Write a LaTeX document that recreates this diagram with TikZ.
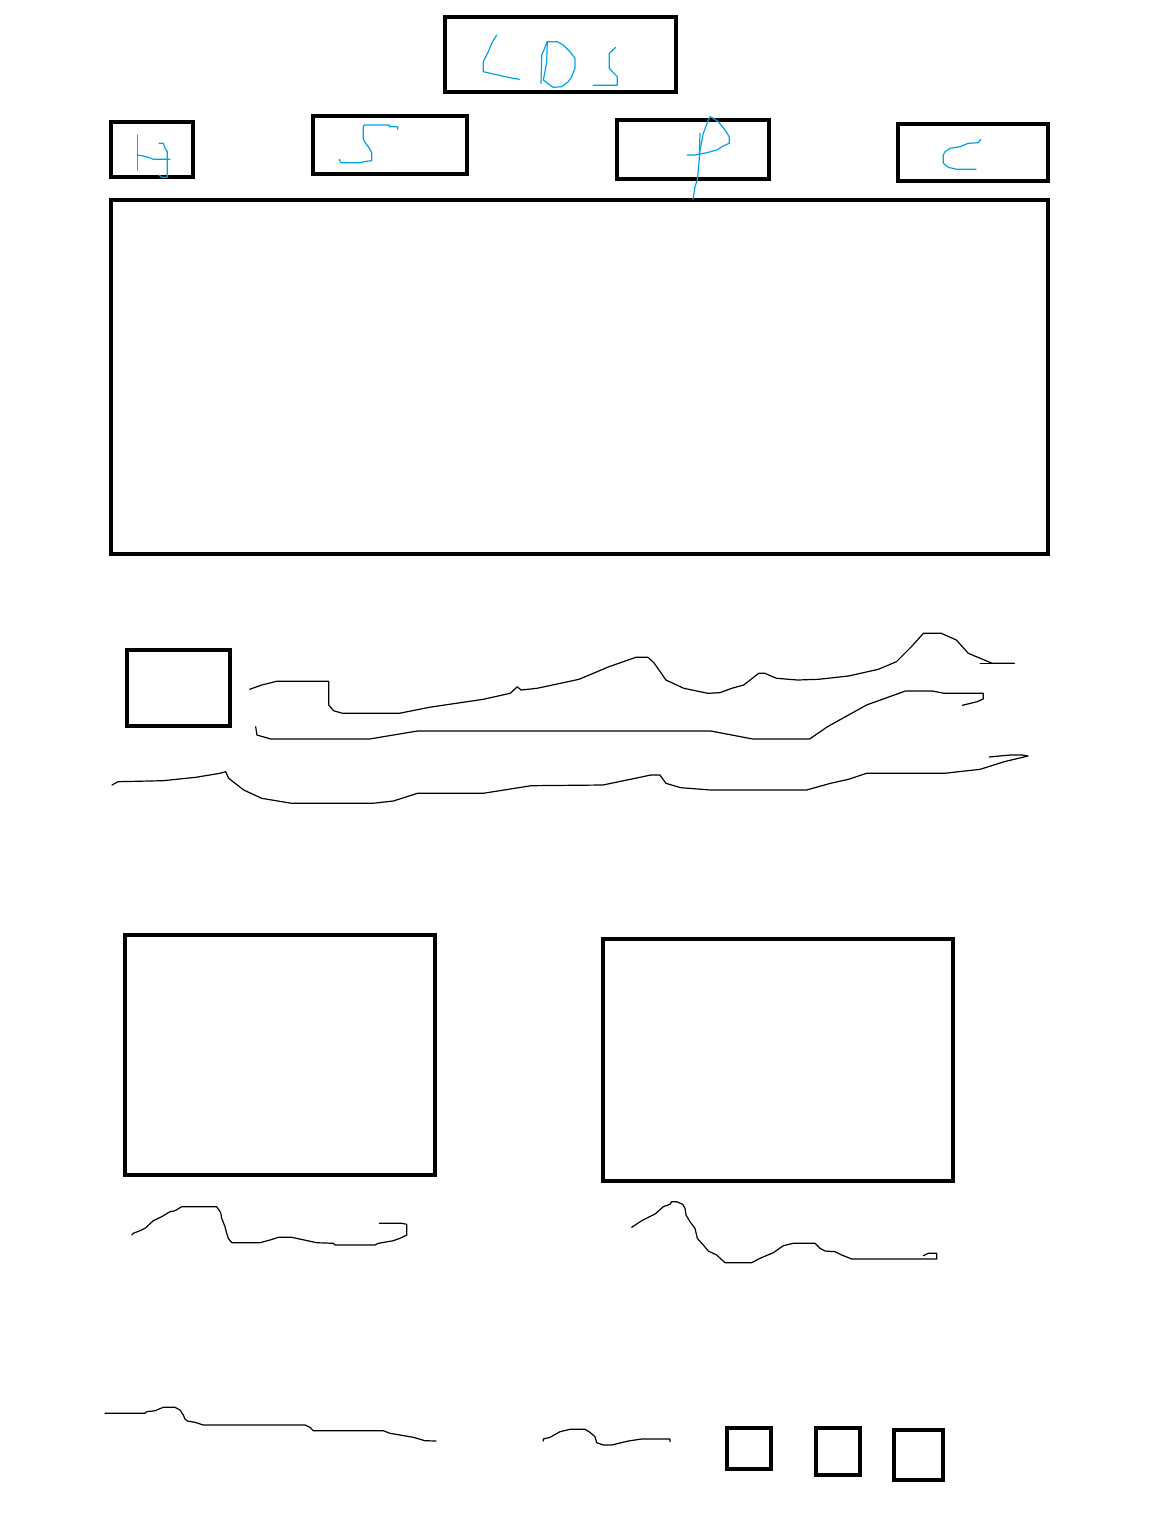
\documentclass[tikz,border=0pt]{standalone}
\usepackage{tikz}
\definecolor{paintblue}{RGB}{0,162,232}
\tikzset{frame/.style = {shape = rectangle, draw, line width = 4pt, inner sep = 0pt}}
\tikzset{pen/.style = {line width = 1.2pt, line join = round, line cap = round}}
\tikzset{ink/.style = {pen, draw = paintblue}}

\begin{document}
\begin{tikzpicture}[x = 1pt, y = -1pt]
			\useasboundingbox (0, 0) rectangle (1152, 1526);

			\node[frame, minimum width = 231pt, minimum height = 75pt] (lds) at (560.5, 54.5) {};
			\node[frame, minimum width = 82pt, minimum height = 55pt] (hbox) at (152, 149.5) {};
			\node[frame, minimum width = 154pt, minimum height = 58pt] (sbox) at (390.3, 144.7) {};
			\node[frame, minimum width = 152pt, minimum height = 59pt] (pbox) at (693.3, 149.5) {};
			\node[frame, minimum width = 150pt, minimum height = 57pt] (cbox) at (973, 152) {};
			\node[frame, minimum width = 937pt, minimum height = 354pt] (main) at (579.5, 377) {};
			\node[frame, minimum width = 103pt, minimum height = 76pt] (thumb) at (178, 688) {};
			\node[frame, minimum width = 310pt, minimum height = 240pt] (leftpanel) at (279.5, 1054.5) {};
			\node[frame, minimum width = 350pt, minimum height = 242pt] (rightpanel) at (777.5, 1059.5) {};
			\node[frame, minimum width = 44pt, minimum height = 41pt] (sqa) at (748.5, 1448.5) {};
			\node[frame, minimum width = 44pt, minimum height = 47pt] (sqb) at (837.5, 1451.5) {};
			\node[frame, minimum width = 49pt, minimum height = 50pt] (sqc) at (918, 1454.5) {};

			% blue letters
			\draw[ink] (496.7,35) -- (491.7,43.3) -- (488.3,51.7) -- (483.3,61.7) -- (483.3,71.7) -- (493.3,74) -- (510,77.7) -- (519.3,79.3);
			\draw[ink] (541,83.3) -- (541.7,55) -- (546,45) -- (547.3,41.7);
			\draw[ink] (547.3,41.7) -- (557.3,41.7) -- (563.3,45) -- (570,51.7) -- (575,58.3) -- (575,68.3) -- (571.7,76.7) -- (568.3,81.7) -- (561.7,86.7) -- (553.3,87.3) -- (546.7,82.7) -- (543.3,80) -- (545,71.7) -- (546.7,61.7) -- cycle;
			\draw[ink] (615.7,47.3) -- (611,51.7) -- (609.3,53.3) -- (609.3,68.3) -- (613.3,72.7) -- (617.3,76.7) -- (617.3,85.3) -- (593.3,85.3);
			\draw[ink] (137.3,135) -- (137.3,170);
			\draw[ink] (137.3,155) -- (143.3,156) -- (148.3,157.3) -- (153.3,159.3) -- (170,159.3);
			\draw[ink] (159,143.3) -- (163.3,143.3) -- (165,148.3) -- (167.3,151.7) -- (167.3,177.3) -- (161.7,177.3) -- (159,175);
			\draw[ink] (397.7,129.3) -- (397.7,126.7) -- (389.3,126.7) -- (389.3,125) -- (364.3,125) -- (363.3,126.7) -- (363.3,139.3) -- (365.7,143.3) -- (368.3,146.7) -- (370.7,150.7) -- (371.7,153.3) -- (371.7,160.7) -- (363.3,161.7) -- (361.7,162.7) -- (341,162.7) -- (339.3,159.3);
			\draw[ink] (693,199.3) -- (695,186.7) -- (697.3,180) -- (698.3,170) -- (700,150) -- (703.3,133.3) -- (707.7,121.7) -- (710,116.7) -- (713.3,118.3) -- (718.3,121.7) -- (725,130) -- (729.3,136.7) -- (729.3,143.3) -- (723.3,146) -- (716.7,150) -- (706.7,152.7) -- (700,154) -- (695,155) -- (687.3,155);
			\draw[ink] (700,133.3) -- (699.3,153.3);
			\draw[ink] (981,139.3) -- (978.3,142.7) -- (968.3,143.3) -- (960,146.7) -- (950,148.3) -- (945,151.7) -- (943.3,155) -- (943.3,163.3) -- (948.3,167.3) -- (956.7,169.3) -- (976,169.3);

			% black squiggles
			\draw[pen] (249.7,689.3) -- (261.7,685) -- (276.6,681.3) -- (328.7,681.3) -- (328.7,705) -- (333.5,710.7) -- (342.5,713.3) -- (399.4,713.3) -- (429.3,707.3) -- (483.2,699.3) -- (510.2,693.3) -- (517.4,686.7) -- (521,690) -- (537.1,688.3) -- (579,679.3) -- (609,666.7) -- (635.9,657.3) -- (647.9,657.3) -- (653.9,662.7) -- (665.9,680) -- (683.8,688.3) -- (707.8,693.3) -- (719.8,692.7) -- (731.7,688.3) -- (743.7,685) -- (758.7,673.3) -- (764.7,673.3) -- (776.6,678.3) -- (797.6,680) -- (818.6,679.3) -- (848.5,676) -- (878.4,669.3) -- (896.4,661.7) -- (911.4,646.7) -- (923.4,633.3) -- (941.3,633.3) -- (956.3,640) -- (968.3,653.3) -- (980.2,658.3) -- (992.2,663.3) -- (1014.4,663.3);
			\draw[pen] (980.2,663.3) -- (992.2,663.3);
			\draw[pen] (255.7,726.7) -- (256.9,735) -- (270.7,739) -- (369.5,739) -- (417.4,731) -- (710.8,731) -- (752.7,739) -- (809.6,739) -- (827.5,726.7) -- (866.5,705) -- (905.4,691) -- (932.3,691) -- (944.3,693.3) -- (983.2,693.3) -- (983.2,699) -- (977.2,701.7) -- (962.3,705.3);
			\draw[pen] (112,785) -- (118,781.7) -- (162.9,780.7) -- (195.8,777.3) -- (219.8,773.3) -- (225.7,771.7) -- (228.7,778.3) -- (243.7,790) -- (261.7,798.3) -- (291.6,803.3) -- (372.5,803.3) -- (393.4,801) -- (417.4,793.3) -- (483.2,793.3) -- (531.1,785.7) -- (603,785) -- (650.9,775) -- (659.9,775) -- (665.9,783.3) -- (680.8,787.7) -- (710.8,790) -- (806.6,790) -- (830.5,783.3) -- (848.5,779.3) -- (866.5,773.3) -- (944.3,773.3) -- (980.2,769.3) -- (1004.2,761.7) -- (1028.1,756) -- (1022.2,755) -- (1010.2,755) -- (989.2,757);
			\draw[pen] (131.7,1235) -- (133.3,1233.3) -- (140,1230.7) -- (145,1228.3) -- (153.3,1220.7) -- (161.7,1216.7) -- (170,1211.7) -- (175,1210.7) -- (181.7,1206.7) -- (216.7,1206.7) -- (220.7,1212.7) -- (221.7,1218.3) -- (225,1226.7) -- (226.7,1233.3) -- (228.3,1238.3) -- (231.7,1242.7) -- (260,1242.7) -- (270,1240) -- (278.3,1237.3) -- (291.7,1237.3) -- (316.7,1242.7) -- (333.3,1243.3) -- (335,1245) -- (375,1245) -- (378.3,1243.3) -- (393.3,1240.7) -- (400,1238.3) -- (406.7,1235) -- (406.7,1224.3) -- (401.7,1223.3) -- (379.3,1223.3);
			\draw[pen] (631.7,1227.3) -- (641.7,1220.7) -- (655,1214) -- (663.3,1206.7) -- (670,1204.3) -- (671.7,1201.7) -- (676.7,1201.7) -- (682.7,1204.3) -- (685,1208.3) -- (686,1215) -- (690,1221.7) -- (695,1228.3) -- (697.3,1238.3) -- (703.3,1245) -- (708.3,1251) -- (716.7,1255) -- (725,1262.7) -- (751.7,1262.7) -- (760,1258.3) -- (773.3,1252.7) -- (783.3,1245.7) -- (793.3,1243.3) -- (815,1243.3) -- (820,1248.3) -- (825,1251) -- (835,1251.7) -- (841.7,1255) -- (851.7,1259) -- (936.7,1259) -- (936.7,1253.3) -- (928.3,1253.3) -- (923.3,1255.7);
			\draw[pen] (105,1413.3) -- (145,1413.3) -- (146.7,1411.7) -- (155,1410.7) -- (163.3,1407.3) -- (175,1407.3) -- (180,1410) -- (183.3,1415) -- (185,1419) -- (187.3,1421) -- (195,1422.3) -- (203.3,1425) -- (305,1425) -- (310,1427.3) -- (313.3,1430.7) -- (383.3,1430.7) -- (390,1433.3) -- (400,1435) -- (413.3,1437.3) -- (425,1440.7) -- (436,1441);
			\draw[pen] (543.3,1441) -- (543.3,1439) -- (550,1437.3) -- (560,1431.7) -- (570,1429.3) -- (585,1429.3) -- (590,1432.3) -- (595,1436.7) -- (596.7,1442.7) -- (603.3,1445) -- (611.7,1445) -- (628.3,1441) -- (641.7,1439) -- (670,1439) -- (670,1441.7);
		\end{tikzpicture}
\end{document}
